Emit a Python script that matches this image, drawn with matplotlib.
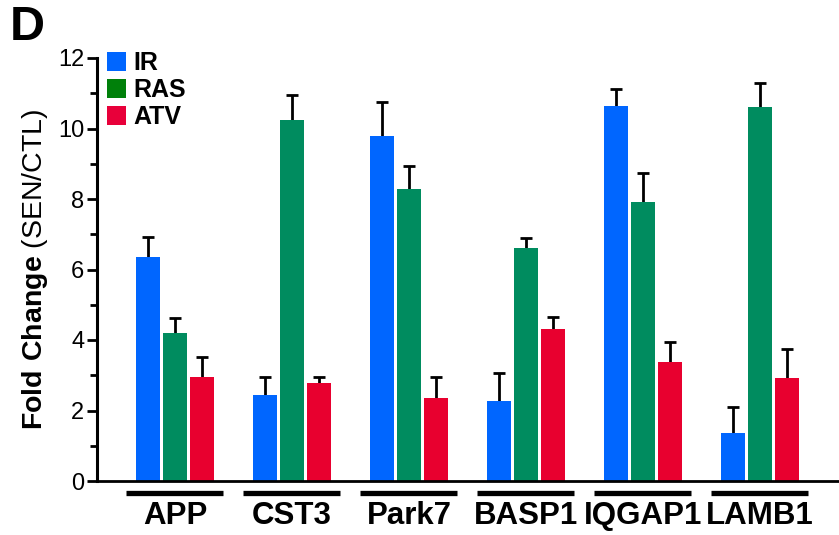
import numpy as np
import matplotlib
matplotlib.use("Agg")
import matplotlib.pyplot as plt
from matplotlib.patches import Patch
import matplotlib.transforms as mtransforms

plt.rcParams['font.family'] = ['Liberation Sans', 'DejaVu Sans']
plt.rcParams['mathtext.fontset'] = 'custom'
plt.rcParams['mathtext.rm'] = 'Liberation Sans'
plt.rcParams['mathtext.bf'] = 'Liberation Sans:bold'

genes = ["APP", "CST3", "Park7", "BASP1", "IQGAP1", "LAMB1"]
series = ["IR", "RAS", "ATV"]

ir_vals = [6.36, 2.44, 9.78, 2.27, 10.64, 1.37]
ir_err = [0.57, 0.51, 0.96, 0.78, 0.48, 0.74]
ras_vals = [4.21, 10.24, 8.28, 6.60, 7.92, 10.62]
ras_err = [0.41, 0.71, 0.65, 0.29, 0.83, 0.66]
atv_vals = [2.96, 2.77, 2.36, 4.30, 3.37, 2.93]
atv_err = [0.57, 0.18, 0.58, 0.34, 0.56, 0.81]

bar_colors = ["#0066FF", "#008C5F", "#E8002F"]
legend_colors = ["#0066FF", "#00800A", "#E8003A"]

fig = plt.figure(figsize=(8.39, 5.35), dpi=100)
ax = fig.add_axes([97 / 839, 54 / 535, 742 / 839, 423 / 535])

x = np.arange(len(genes))
w = 0.205
step = 0.231
for k, (vals, errs) in enumerate([(ir_vals, ir_err), (ras_vals, ras_err), (atv_vals, atv_err)]):
    pos = x + (k - 1) * step
    ax.bar(pos, vals, width=w, color=bar_colors[k], zorder=2)
    eb = ax.errorbar(pos, vals, yerr=[np.zeros(len(vals)), errs], fmt="none",
                     ecolor="black", elinewidth=2, capsize=4.5, capthick=2, zorder=1)
    # hide the lower caps (they sit on the bar tops)
    for cl in eb[1]:
        if np.allclose(cl.get_ydata(), vals):
            cl.set_visible(False)

ax.set_xlim(-0.667, 5.675)
ax.set_ylim(0, 12)
ax.set_yticks(np.arange(0, 13, 2))
ax.set_yticks(np.arange(1, 12, 2), minor=True)
ax.tick_params(axis="y", which="major", length=7, width=2, labelsize=17, pad=2)
ax.tick_params(axis="y", which="minor", length=5, width=2)
ax.set_xticks([])
for s in ["top", "right"]:
    ax.spines[s].set_visible(False)
ax.spines["left"].set_linewidth(2.2)
ax.spines["bottom"].set_linewidth(2)

ax.set_ylabel(r"$\bf{Fold\ Change}$ (SEN/CTL)", fontsize=20.5, labelpad=6)

trans = mtransforms.blended_transform_factory(ax.transData, ax.transAxes)
for i, g in enumerate(genes):
    ax.plot([i - 0.42, i + 0.41], [-0.028, -0.028], color="black", lw=3.8,
            transform=trans, clip_on=False, solid_capstyle="butt")
    ax.text(i, -0.082, g, transform=trans, ha="center", va="center",
            fontsize=22.5, fontweight="bold")

handles = [Patch(facecolor=c) for c in legend_colors]
ax.legend(handles, series, loc="upper left", bbox_to_anchor=(0.0, 1.04),
          frameon=False, handlelength=0.75, handleheight=0.75, handletextpad=0.3,
          labelspacing=0.12, borderaxespad=0.1, borderpad=0.3,
          prop={"weight": "bold", "size": 18})

fig.text(10 / 839, 1 - 5 / 535, "D", fontsize=35, fontweight="bold", va="top", ha="left")

fig.savefig("out.png", dpi=100)
